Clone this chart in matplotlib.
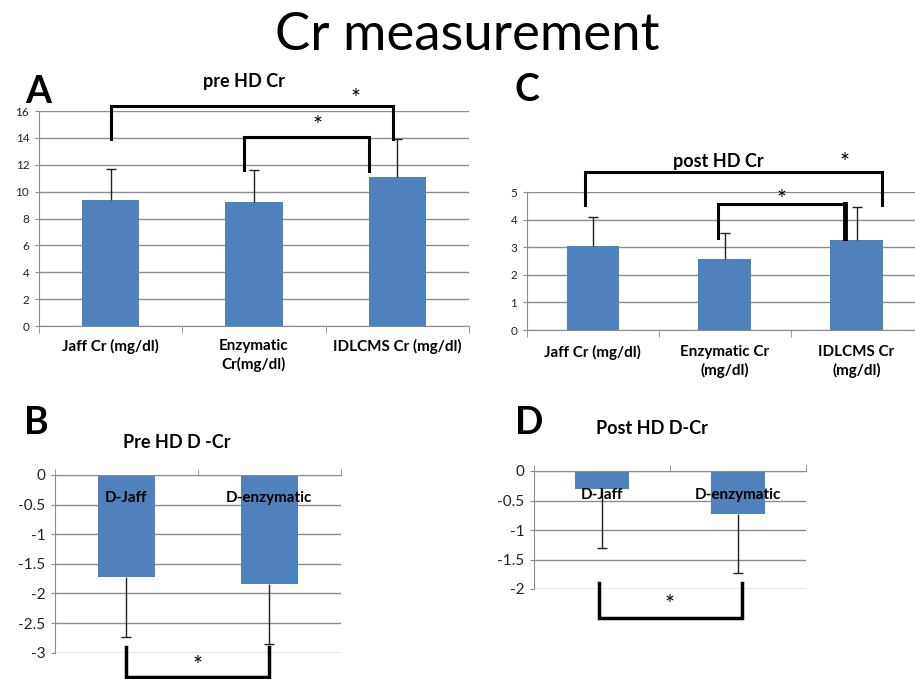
import matplotlib
matplotlib.use("Agg")
import matplotlib.pyplot as plt

plt.rcParams['font.family'] = ['Lato', 'DejaVu Sans']

# panel A: pre HD Cr
pre_labels = ['Jaff Cr (mg/dl)', 'Enzymatic\nCr(mg/dl)', 'IDLCMS Cr (mg/dl)']
pre_means = [9.37, 9.25, 11.1]
pre_err = [2.3, 2.35, 2.8]

# panel C: post HD Cr
post_labels = ['Jaff Cr (mg/dl)', 'Enzymatic Cr\n(mg/dl)', 'IDLCMS Cr\n(mg/dl)']
post_means = [3.05, 2.58, 3.26]
post_err = [1.04, 0.95, 1.2]

# panel B: pre HD D-Cr
d_labels = ['D-Jaff', 'D-enzymatic']
pre_d_means = [-1.72, -1.84]
pre_d_err = [1.01, 1.01]

# panel D: post HD D-Cr
post_d_means = [-0.305, -0.73]
post_d_err = [1.0, 1.0]

BLUE = '#4F81BD'
GRID = '#8c8c8c'
W, H = 915, 679


def px(x, y):
    return x / W, 1 - y / H


def box(l, t, r, b):
    return [l / W, 1 - b / H, (r - l) / W, (b - t) / H]


def style(ax, n, ylim, yticks, tick_fs, top_axis=False):
    ax.set_xlim(-0.5, n - 0.5)
    ax.set_ylim(*ylim)
    ax.set_yticks(yticks)
    ax.set_yticklabels([f'{t:g}' for t in yticks], fontsize=tick_fs, color='#222222')
    ax.grid(axis='y', color=GRID, lw=1)
    ax.set_axisbelow(True)
    for s in ['top', 'right', 'bottom']:
        ax.spines[s].set_visible(False)
    ax.spines['left'].set_color(GRID)
    ax.tick_params(axis='y', length=3, color=GRID, pad=4)
    # category axis line with separator ticks
    ax.set_xticks([i - 0.5 for i in range(n + 1)], minor=True)
    if top_axis:
        ax.spines['top'].set_visible(True)
        ax.spines['top'].set_color(GRID)
        ax.xaxis.set_ticks_position('top')
        ax.tick_params(axis='x', which='minor', length=4, color=GRID, top=True, bottom=False)
        ax.set_xticks([])
    else:
        ax.spines['bottom'].set_visible(True)
        ax.spines['bottom'].set_color(GRID)
        ax.tick_params(axis='x', which='minor', length=5, color=GRID)


def bars(ax, means, errs):
    # bars with one-sided error bars (cap only at the far end)
    x = list(range(len(means)))
    ax.bar(x, means, width=0.4, color=BLUE, zorder=2)
    ends = [m + e if m >= 0 else m - e for m, e in zip(means, errs)]
    ax.vlines(x, means, ends, color='#222222', lw=1, zorder=3)
    ax.plot(x, ends, ls='none', marker='_', ms=7, mew=1, color='#222222', zorder=3)
    return x


def bracket(ax, x0, x1, y, y0, y1, lw=2.2):
    ax.plot([x0, x0, x1, x1], [y0, y, y, y1], color='black', lw=lw,
            clip_on=False, solid_joinstyle='miter', zorder=5)


def star(ax, x, y):
    ax.text(x, y, '*', fontsize=17, ha='center', va='center', zorder=6)


fig = plt.figure(figsize=(W / 100, H / 100), dpi=100)
fig.text(*px(467, 35), 'Cr measurement', fontsize=38, ha='center', va='center')

# ---- A ----
axA = fig.add_axes(box(39, 111, 469, 326))
x = bars(axA, pre_means, pre_err)
style(axA, 3, (0, 16), range(0, 17, 2), 8.5)
axA.set_xticks(x)
axA.set_xticklabels(pre_labels, fontsize=11, fontweight='bold', linespacing=1.35)
axA.tick_params(axis='x', which='major', length=0, pad=9)
bracket(axA, 0, 1.97, 16.37, 13.9, 13.9)
bracket(axA, 0.93, 1.80, 14.1, 11.6, 11.5)
star(axA, 1.71, 16.9)
star(axA, 1.44, 14.9)
fig.text(*px(244, 82), 'pre HD Cr', fontsize=13, fontweight='bold', ha='center', va='center')
fig.text(*px(38, 92), 'A', fontsize=27, fontweight='bold', ha='center', va='center')

# ---- C ----
axC = fig.add_axes(box(527, 192.3, 922.5, 330))
x = bars(axC, post_means, post_err)
style(axC, 3, (0, 5), range(0, 6), 8.5)
axC.set_xticks(x)
axC.set_xticklabels(post_labels, fontsize=11, fontweight='bold', linespacing=1.3)
axC.tick_params(axis='x', which='major', length=0, pad=11)
bracket(axC, -0.06, 2.19, 5.75, 4.54, 4.54)
bracket(axC, 0.95, 1.91, 4.56, 3.33, 3.33)
axC.plot([1.91, 1.91], [4.56, 3.33], color='black', lw=3.5, clip_on=False, zorder=5)
star(axC, 1.91, 6.1)
star(axC, 1.43, 4.75)
fig.text(*px(718, 162), 'post HD Cr', fontsize=13, fontweight='bold', ha='center', va='center')
fig.text(*px(527, 90), 'C', fontsize=27, fontweight='bold', ha='center', va='center')

# ---- B ----
axB = fig.add_axes(box(55, 475, 340.7, 652.7))
bars(axB, pre_d_means, pre_d_err)
style(axB, 2, (-3, 0), [-3, -2.5, -2, -1.5, -1, -0.5, 0], 11, top_axis=True)
for i, lab in enumerate(d_labels):
    axB.text(i, -0.38, lab, fontsize=11, fontweight='bold', ha='center', va='center', zorder=4)
bracket(axB, 0, 1, -3.41, -2.90, -2.90, lw=2.5)
star(axB, 0.5, -3.22)
fig.text(*px(177, 443), 'Pre HD D -Cr', fontsize=13, fontweight='bold', ha='center', va='center')
fig.text(*px(36, 423), 'B', fontsize=27, fontweight='bold', ha='center', va='center')

# ---- D ----
axD = fig.add_axes(box(534, 471, 805.7, 589))
bars(axD, post_d_means, post_d_err)
style(axD, 2, (-2, 0), [-2, -1.5, -1, -0.5, 0], 11, top_axis=True)
for i, lab in enumerate(d_labels):
    axD.text(i, -0.41, lab, fontsize=11, fontweight='bold', ha='center', va='center', zorder=4)
bracket(axD, -0.02, 1.03, -2.49, -1.90, -1.90, lw=2.5)
star(axD, 0.5, -2.26)
fig.text(*px(652, 428), 'Post HD D-Cr', fontsize=13, fontweight='bold', ha='center', va='center')
fig.text(*px(529, 423), 'D', fontsize=27, fontweight='bold', ha='center', va='center')

fig.savefig('out.png', dpi=100)
